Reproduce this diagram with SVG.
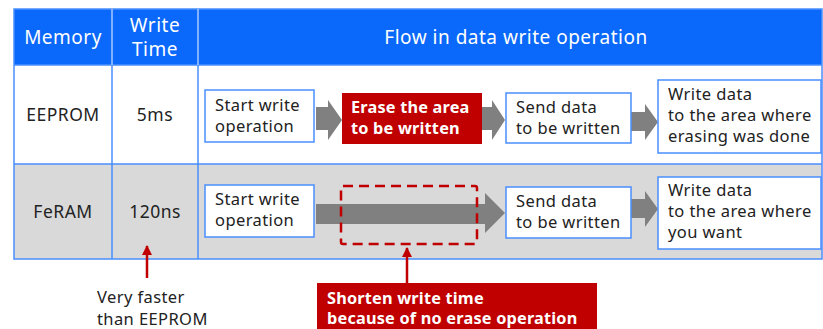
<svg xmlns="http://www.w3.org/2000/svg" width="823" height="329" viewBox="0 0 823 329">
<style>
text{font-family:"Noto Sans","Liberation Sans",sans-serif;font-size:16.5px;letter-spacing:0.4px;fill:#222}
.h{fill:#fff;font-size:19px;letter-spacing:0.5px}
.c{text-anchor:middle}
.m{font-size:17.5px;letter-spacing:0.5px}
.w{fill:#fff;font-weight:bold;font-size:16.3px;letter-spacing:0.2px}
.box{fill:#fff;stroke:#4a8eff;stroke-width:1.5}
.grid{stroke:#4a8eff;stroke-width:1.5;fill:none}
.arr{fill:#808080}
.red{fill:#c00000}
</style>
<defs>
<marker id="rh" viewBox="0 0 10 10" refX="9" refY="5" markerWidth="10" markerHeight="10" markerUnits="userSpaceOnUse" orient="auto">
<path d="M0,0 L10,5 L0,10 Z" fill="#c00000"/>
</marker>
</defs>
<g id="table">
<rect x="14" y="9" width="808" height="56" fill="#0a68fa"/>
<rect x="14" y="164" width="808" height="95" fill="#d9d9d9"/>
<path class="grid" d="M14,9 H822 V259 H14 Z M14,164 H822 M14,65 H822 M112,65 V259 M198,65 V259"/>
<path d="M112,9 V65 M198,9 V65" stroke="#a9c8ff" stroke-width="1.5"/>
<text class="h c" x="63" y="44">Memory</text>
<text class="h c" x="155" y="32">Write<tspan x="155" y="56">Time</tspan></text>
<text class="h c" x="516" y="44">Flow in data write operation</text>
<text class="m c" x="63" y="121">EEPROM</text>
<text class="m c" x="155" y="121">5ms</text>
<text class="m c" x="63" y="218">FeRAM</text>
<text class="m c" x="155" y="218">120ns</text>
</g>
<g id="connectors">
<path class="arr" d="M316,107 H328 V100 L342,120 L328,140 V130 H316 Z"/>
<path class="arr" d="M482,107 H492 V100 L505,120 L492,140 V130 H482 Z"/>
<path class="arr" d="M631,112 H645 V104 L658,122 L645,140 V131 H631 Z"/>
<path class="arr" d="M316,204 H485 V193 L505,213 L485,233 V224 H316 Z"/>
<path class="arr" d="M631,199 H645 V191 L658,209 L645,227 V218 H631 Z"/>
<path d="M147,278 V246" stroke="#c00000" stroke-width="2.5" marker-end="url(#rh)"/>
<path d="M407,283 V248" stroke="#c00000" stroke-width="2.5" marker-end="url(#rh)"/>
</g>
<g id="e-start">
<rect class="box" x="205" y="90" width="109" height="52"/>
<text x="215" y="111">Start write<tspan x="215" y="132">operation</tspan></text>
</g>
<g id="e-erase">
<rect class="red" x="342" y="93" width="140" height="51"/>
<text class="w" x="351" y="113">Erase the area<tspan x="351" y="134">to be written</tspan></text>
</g>
<g id="e-send">
<rect class="box" x="506" y="93" width="125" height="50"/>
<text x="516" y="113">Send data<tspan x="516" y="134">to be written</tspan></text>
</g>
<g id="e-write">
<rect class="box" x="658" y="80" width="163" height="73"/>
<text x="668" y="100">Write data<tspan x="668" y="121">to the area where</tspan><tspan x="668" y="142">erasing was done</tspan></text>
</g>
<g id="f-start">
<rect class="box" x="205" y="185" width="109" height="52"/>
<text x="215" y="205">Start write<tspan x="215" y="226">operation</tspan></text>
</g>
<g id="f-skip">
<rect x="341" y="186" width="136" height="58" rx="2" fill="none" stroke="#c00000" stroke-width="2.5" stroke-dasharray="10,6"/>
</g>
<g id="f-send">
<rect class="box" x="506" y="187" width="125" height="51"/>
<text x="516" y="207">Send data<tspan x="516" y="228">to be written</tspan></text>
</g>
<g id="f-write">
<rect class="box" x="658" y="177" width="163" height="72"/>
<text x="668" y="196">Write data<tspan x="668" y="217">to the area where</tspan><tspan x="668" y="238">you want</tspan></text>
</g>
<g id="note-fast">
<text x="97" y="303">Very faster<tspan x="97" y="325">than EEPROM</tspan></text>
</g>
<g id="note-shorten">
<rect class="red" x="317" y="283" width="280" height="50"/>
<text class="w" x="327" y="304">Shorten write time<tspan x="327" y="324">because of no erase operation</tspan></text>
</g>
</svg>
